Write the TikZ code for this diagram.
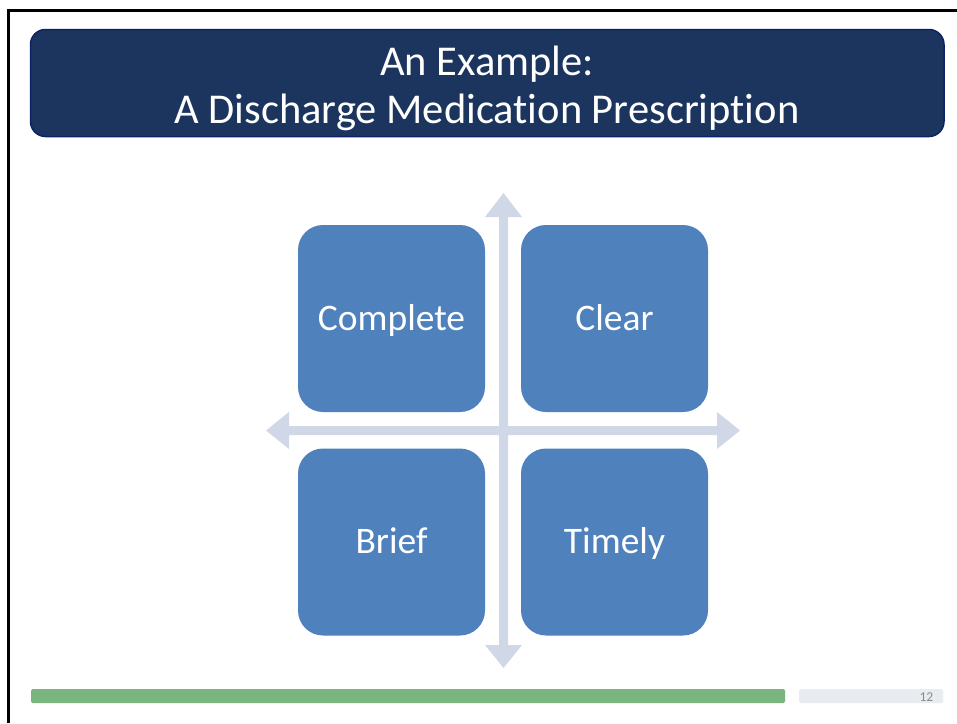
\documentclass[tikz,border=0pt]{standalone}
\usepackage{fontspec}
\setmainfont{Carlito}[Ligatures=NoCommon]
\definecolor{titlefill}{HTML}{1C355E}
\definecolor{titleedge}{HTML}{0B2366}
\definecolor{boxblue}{HTML}{4F81BD}
\definecolor{axisgray}{HTML}{D0D8E8}
\definecolor{barGreen}{HTML}{7AB47F}
\definecolor{barGray}{HTML}{E8ECF0}
\definecolor{pagenum}{HTML}{8A8A8A}
\tikzset{
  quadbox/.style={fill=boxblue, draw=none, rounded corners=25pt,
    minimum width=187pt, minimum height=187pt, inner sep=0pt,
    text height=26pt, text depth=3pt,
    text=white, font=\fontsize{37.5}{42}\selectfont},
  titletext/.style={text=white, align=center, inner sep=0pt,
    font=\fontsize{42.5}{48}\selectfont},
  axisarrow/.style={fill=axisgray, draw=none}
}
\begin{document}
\begin{tikzpicture}[x=1pt,y=-1pt]
\useasboundingbox (0,0) rectangle (957,723);
\fill[white] (0,0) rectangle (957,723);
% slide frame (top and left edges)
\draw[line width=2.5pt] (8.5,723) -- (8.5,10.5) -- (957,10.5);
% title banner
\fill[titlefill, draw=titleedge, line width=1.5pt, rounded corners=15pt] (30.5,29.5) rectangle (944,136.5);
\node[titletext, anchor=base] (title) at (487,123) {An Example:\\A Discharge Medication Prescription};
% vertical double-headed axis
\fill[axisarrow] (503.5,193) -- (522,217) -- (508,217) -- (508,645) -- (522,645)
  -- (503.5,668) -- (485,645) -- (499,645) -- (499,217) -- (485,217) -- cycle;
% horizontal double-headed axis
\fill[axisarrow] (266,430.5) -- (289,412) -- (289,426) -- (717,426) -- (717,412)
  -- (740,430.5) -- (717,449) -- (717,435) -- (289,435) -- (289,449) -- cycle;
% quadrant boxes
\node[quadbox] (complete) at (391.5,318.5) {Complete};
\node[quadbox] (clear)    at (614.5,318.5) {Clear};
\node[quadbox] (brief)    at (391.5,542)   {Brief};
\node[quadbox] (timely)   at (614.5,542)   {Timely};
% footer bars
\fill[barGreen, rounded corners=1.5pt] (31,689) rectangle (785,703);
\fill[barGray, rounded corners=1.5pt] (799,689) rectangle (943,703);
\node[text=pagenum, font=\fontsize{13.5}{14}\selectfont, anchor=base east, inner sep=0pt] (pg) at (933.5,701) {12};
\end{tikzpicture}
\end{document}
